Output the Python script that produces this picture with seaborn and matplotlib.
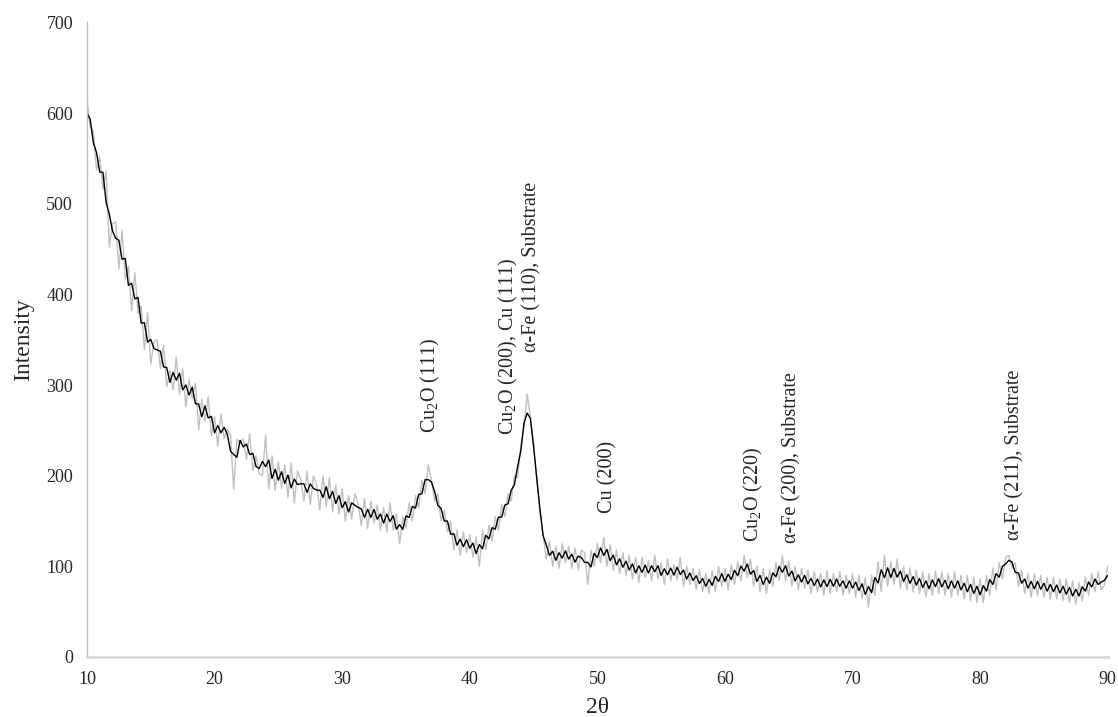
import numpy as np
import pandas as pd
import matplotlib
matplotlib.use("Agg")
import matplotlib.pyplot as plt
import seaborn as sns

# raw XRD counts, 0.25 deg steps from 10 to 90 (2theta)
seg_10_20 = [615, 585, 580, 537, 552, 516, 536, 452, 478, 480, 428, 471, 417, 431, 382, 424, 379, 387, 339, 380,
             323, 348, 350, 318, 344, 298, 316, 295, 331, 290, 318, 276, 306, 285, 302, 251, 284, 260, 287, 244]
seg_20_30 = [265, 233, 268, 241, 251, 245, 185, 240, 236, 241, 218, 246, 206, 222, 202, 200, 245, 185, 222, 184,
             215, 186, 212, 176, 214, 170, 205, 196, 172, 205, 168, 200, 190, 162, 200, 166, 198, 160, 190, 158]
seg_30_40 = [186, 150, 178, 152, 180, 170, 145, 175, 142, 172, 148, 168, 140, 165, 138, 170, 140, 158, 125, 155,
             142, 170, 150, 178, 165, 195, 180, 212, 195, 172, 180, 150, 162, 138, 150, 118, 140, 112, 138, 115]
seg_40_50 = [135, 110, 132, 100, 140, 118, 145, 128, 155, 140, 168, 155, 180, 172, 200, 198, 232, 252, 290, 265,
             235, 198, 158, 135, 108, 128, 100, 122, 98, 125, 104, 122, 98, 120, 96, 118, 115, 80, 118, 100]
seg_50_60 = [125, 104, 132, 100, 124, 95, 118, 92, 115, 90, 112, 86, 110, 82, 110, 88, 106, 84, 112, 86,
             104, 80, 108, 84, 102, 85, 110, 78, 100, 80, 98, 75, 96, 72, 92, 70, 95, 72, 100, 78]
seg_60_70 = [98, 74, 102, 80, 105, 84, 112, 88, 108, 78, 100, 72, 98, 70, 96, 78, 104, 84, 112, 84,
             106, 78, 100, 74, 98, 76, 96, 70, 94, 72, 92, 68, 95, 70, 92, 72, 94, 68, 90, 70]
seg_70_80 = [92, 66, 90, 64, 88, 55, 90, 68, 105, 72, 112, 78, 105, 80, 108, 76, 100, 74, 98, 72,
             96, 70, 94, 66, 92, 68, 95, 70, 94, 68, 92, 66, 94, 68, 90, 64, 90, 62, 88, 60]
seg_80_90 = [86, 60, 90, 68, 98, 74, 104, 86, 110, 112, 98, 104, 78, 96, 70, 92, 66, 92, 68, 90,
             66, 88, 64, 88, 64, 86, 62, 86, 60, 84, 58, 82, 62, 88, 68, 92, 72, 94, 74, 80, 100]

intensity = seg_10_20 + seg_20_30 + seg_30_40 + seg_40_50 + seg_50_60 + seg_60_70 + seg_70_80 + seg_80_90
two_theta = np.linspace(10, 90, len(intensity))

# peak labels
peak_labels = ["Cu$_2$O (111)", "Cu$_2$O (200), Cu (111)", "\u03b1-Fe (110), Substrate", "Cu (200)",
               "Cu$_2$O (220)", "\u03b1-Fe (200), Substrate", "\u03b1-Fe (211), Substrate"]
label_x = [36.9, 43.0, 44.9, 50.8, 62.2, 65.25, 82.7]
label_y = [247, 245, 336, 159, 127, 126, 129]

sns.set_style("white")
plt.rcParams['font.family'] = ['Liberation Serif', 'DejaVu Serif']
plt.rcParams['mathtext.fontset'] = 'custom'
plt.rcParams['mathtext.rm'] = 'Liberation Serif'
plt.rcParams['mathtext.it'] = 'Liberation Serif:italic'

df = pd.DataFrame({"two_theta": two_theta, "raw": intensity})
df["smooth"] = df["raw"].rolling(3, center=True, min_periods=1).mean()  # moving average like the excel trendline

fig = plt.figure(figsize=(11.18, 7.17), dpi=100)
ax = fig.add_axes([0.0778, 0.0837, 0.913, 0.885])

sns.lineplot(data=df, x="two_theta", y="raw", color="#c0c0c0", linewidth=1.0, ax=ax)
sns.lineplot(data=df, x="two_theta", y="smooth", color="black", linewidth=1.0, ax=ax)

for txt, xx, yy in zip(peak_labels, label_x, label_y):
    ax.text(xx, yy, txt, rotation=90, ha="center", va="bottom", fontsize=14.5)

ax.set_xlim(10, 90)
ax.set_ylim(0, 700)
ax.set_xticks(range(10, 91, 10))
ax.set_yticks(range(0, 701, 100))
ax.tick_params(length=0, labelsize=13, pad=10)
ax.set_xlabel("2\u03b8", fontsize=17)
ax.set_ylabel("Intensity", fontsize=17)
ax.xaxis.set_label_coords(0.5, -0.063)
ax.yaxis.set_label_coords(-0.052, 0.5)

sns.despine(ax=ax)
ax.spines["left"].set_color("#bfbfbf")
ax.spines["left"].set_linewidth(1.0)
ax.spines["bottom"].set_color("#d9d9d9")
ax.spines["bottom"].set_linewidth(2.0)

fig.savefig("out.png", dpi=100)
